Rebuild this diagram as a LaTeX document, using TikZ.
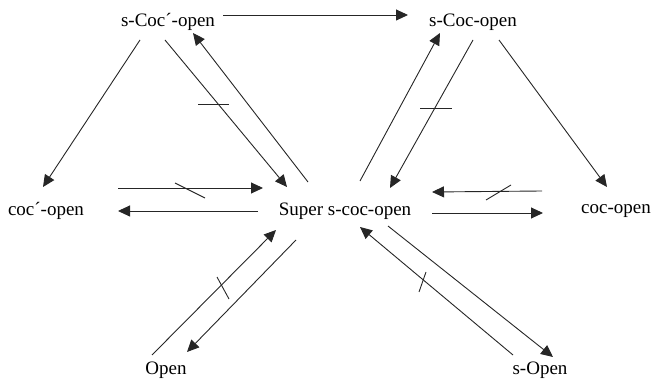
\documentclass[tikz,border=0pt]{standalone}
\usepackage{fontspec}
\setmainfont{Liberation Serif}
\usetikzlibrary{arrows.meta,calc}
\tikzset{
  lbl/.style={inner sep=0pt,font=\fontsize{19}{22}\selectfont},
  arr/.style={draw=black!85,line width=0.9pt,-{Triangle[length=12pt,width=11pt]}},
  tick/.style={draw=black!85,line width=0.9pt}
}
\begin{document}
\begin{tikzpicture}[x=1pt,y=-1pt]
\useasboundingbox (0,0) rectangle (654,382);
\node[lbl] (scp) at (168,22) {s-Coc´-open};
\node[lbl] (sc) at (473,22) {s-Coc-open};
\node[lbl] (ccp) at (46,211) {coc´-open};
\node[lbl] (sup) at (345,211) {Super s-coc-open};
\node[lbl] (cc) at (616,211) {coc-open};
\node[lbl] (op) at (166,370) {Open};
\node[lbl] (sop) at (540,370) {s-Open};
% top
\draw[arr] ($(scp)+(55,-7)$) -- ($(sc)+(-65,-7)$);
% left triangle
\draw[arr] ($(scp)+(-28,18)$) -- ($(ccp)+(-3,-24)$);
\draw[arr] ($(scp)+(-3,18)$) -- ($(sup)+(-58,-24)$);
\draw[arr] ($(sup)+(-37,-29)$) -- ($(scp)+(25,11)$);
\draw[tick] (198,104) -- (229,104);
% horizontal left
\draw[arr] ($(ccp)+(72,-23)$) -- ($(sup)+(-82,-23)$);
\draw[tick] (175,183) -- (205,198);
\draw[arr] ($(sup)+(-87,0)$) -- ($(ccp)+(72,0)$);
% right triangle
\draw[arr] ($(sup)+(15,-30)$) -- ($(sc)+(-33,11)$);
\draw[arr] ($(sc)+(0,18)$) -- ($(sup)+(45,-23)$);
\draw[tick] (420,108) -- (452,108);
\draw[arr] ($(sc)+(26,18)$) -- ($(cc)+(-9,-24)$);
% horizontal right
\draw[arr] ($(cc)+(-74,-20)$) -- ($(sup)+(87,-19)$);
\draw[tick] (486,200) -- (511,185);
\draw[arr] ($(sup)+(87,2)$) -- ($(cc)+(-73,2)$);
% bottom left
\draw[arr] ($(op)+(-14,-15)$) -- ($(sup)+(-69,19)$);
\draw[tick] (217,277) -- (229,299);
\draw[arr] ($(sup)+(-49,29)$) -- ($(op)+(21,-18)$);
% bottom right
\draw[arr] ($(sup)+(43,15)$) -- ($(sop)+(13,-13)$);
\draw[arr] ($(sop)+(-27,-15)$) -- ($(sup)+(15,16)$);
\draw[tick] (426,272) -- (419,292);
\end{tikzpicture}
\end{document}
